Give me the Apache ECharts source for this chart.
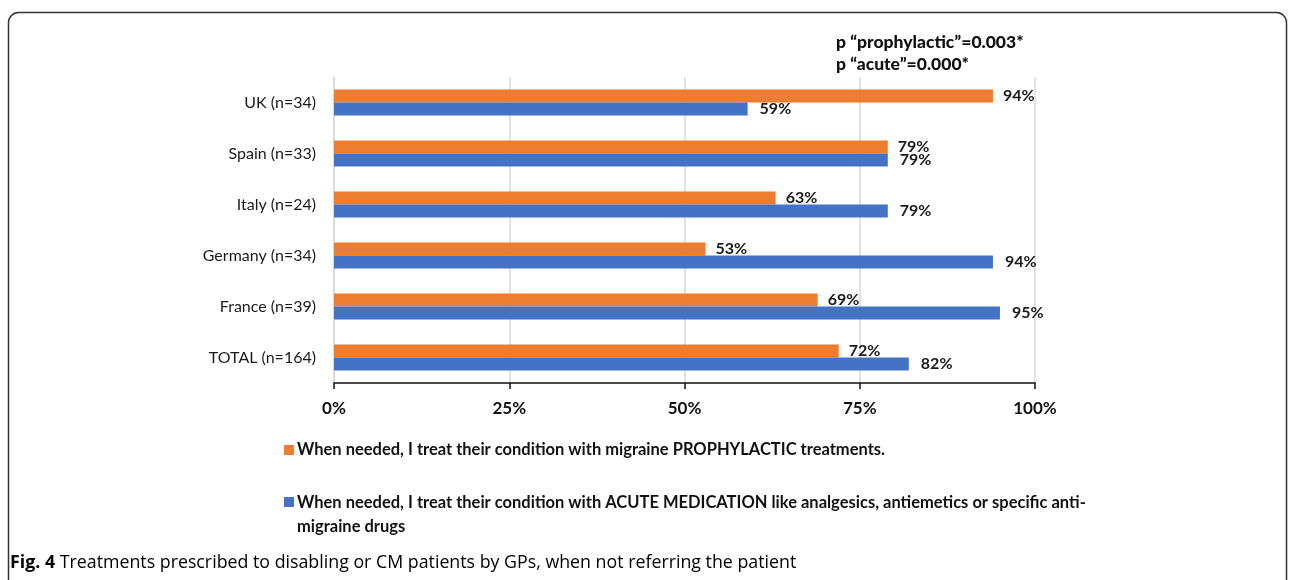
<!DOCTYPE html>
<html>
<head>
<meta charset="utf-8">
<script src="https://cdn.jsdelivr.net/npm/echarts@6/dist/echarts.min.js"></script>
<style>
html,body{margin:0;padding:0;background:#fff;}
#main{width:1295px;height:580px;}
</style>
</head>
<body>
<div id="main"></div>
<script>
const categories = ['UK (n=34)', 'Spain (n=33)', 'Italy (n=24)', 'Germany (n=34)', 'France (n=39)', 'TOTAL (n=164)'];
const prophylactic = [94, 79, 63, 53, 69, 72];
const acute = [59, 79, 79, 94, 95, 82];
const xTicks = [0, 25, 50, 75, 100];
const seriesNames = [
  'When needed, I treat their condition with migraine PROPHYLACTIC treatments.',
  'When needed, I treat their condition with ACUTE MEDICATION like analgesics, antiemetics or specific anti-\nmigraine drugs'
];
const pNotes = ['p \u201cprophylactic\u201d=0.003*', 'p \u201cacute\u201d=0.000*'];
const caption = ['Fig. 4', ' Treatments prescribed to disabling or CM patients by GPs, when not referring the patient'];

const ORANGE = '#ED7D31', BLUE = '#4472C4';
const FONT = 'Lato';

const chart = echarts.init(document.getElementById('main'), null, {renderer: 'canvas'});
const option = {
  backgroundColor: '#fff',
  animation: false,
  grid: {left: 334, right: 260, top: 77, bottom: 197, containLabel: false},
  xAxis: {
    type: 'value', min: 0, max: 100, interval: 25,
    axisLine: {show: true, lineStyle: {color: '#111', width: 1.5}},
    axisTick: {show: true, length: 6, lineStyle: {color: '#111', width: 1.5}},
    axisLabel: {formatter: v => xTicks.includes(v) ? v + '%' : '', fontFamily: FONT, fontWeight: 'bold', fontSize: 17, color: '#111', margin: 17},
    splitLine: {show: true, lineStyle: {color: '#d9d9d9', width: 1.5}}
  },
  yAxis: {
    type: 'category', data: categories, inverse: true,
    axisLine: {show: true, lineStyle: {color: '#d9d9d9', width: 1.5}},
    axisTick: {show: false},
    axisLabel: {fontFamily: FONT, fontSize: 16, color: '#1a1a1a', margin: 18}
  },
  series: [
    {
      name: seriesNames[0], type: 'bar', data: prophylactic, barWidth: 13, barGap: '0%',
      itemStyle: {color: ORANGE},
      label: {show: true, position: 'right', distance: 10, formatter: '{c}%', fontFamily: FONT, fontSize: 16, fontWeight: 'bold', color: '#1a1a1a'}
    },
    {
      name: seriesNames[1], type: 'bar', data: acute, barWidth: 13, barGap: '0%',
      itemStyle: {color: BLUE},
      label: {show: true, position: 'right', distance: 12, formatter: '{c}%', fontFamily: FONT, fontSize: 16, fontWeight: 'bold', color: '#1a1a1a'}
    }
  ],
  graphic: [
    {type: 'rect', shape: {x: 8.5, y: 12.5, width: 1278, height: 620, r: 10}, style: {fill: 'none', stroke: '#333', lineWidth: 1.5}, silent: true},
    {type: 'text', left: 836, top: 33, style: {text: pNotes[0], font: '900 17.5px ' + FONT, fill: '#111'}},
    {type: 'text', left: 836, top: 55, style: {text: pNotes[1], font: '900 17.5px ' + FONT, fill: '#111'}},
    {type: 'rect', shape: {x: 284, y: 445, width: 10, height: 10}, style: {fill: ORANGE}},
    {type: 'text', left: 297, top: 441, style: {text: seriesNames[0], font: 'bold 16.5px ' + FONT, fill: '#111'}},
    {type: 'rect', shape: {x: 284, y: 497, width: 10, height: 10}, style: {fill: BLUE}},
    {type: 'text', left: 297, top: 491, style: {text: seriesNames[1], font: 'bold 16.5px ' + FONT, fill: '#111', lineHeight: 24}},
    {type: 'text', left: 10, top: 554, style: {
      text: '{b|' + caption[0] + '}{n|' + caption[1] + '}',
      rich: {
        b: {fontFamily: 'Open Sans', fontWeight: 'bold', fontSize: 17.8, color: '#222'},
        n: {fontFamily: 'Open Sans', fontSize: 17.8, color: '#3a3a3a'}
      }
    }}
  ]
};
chart.setOption(option);
</script>
</body>
</html>
